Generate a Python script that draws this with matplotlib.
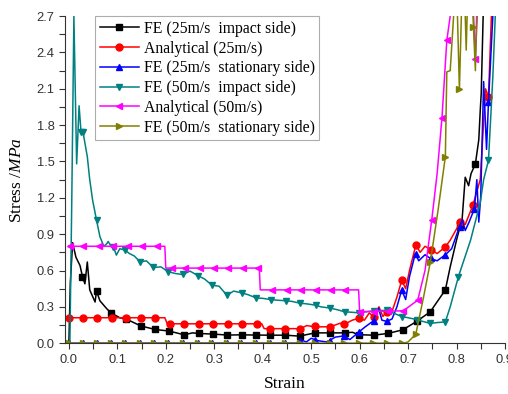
import matplotlib
matplotlib.use("Agg")
import matplotlib.pyplot as plt
from matplotlib.ticker import MultipleLocator

plt.rcParams['font.family'] = ['Liberation Serif', 'DejaVu Serif']
plt.rcParams['mathtext.fontset'] = 'custom'
plt.rcParams['mathtext.rm'] = 'Liberation Serif'
plt.rcParams['mathtext.it'] = 'Liberation Serif:italic'

# ---------------------------------------------------------------------------
# Data (strain, stress in MPa)
# ---------------------------------------------------------------------------
# FE (25 m/s impact side) - black squares
fe25i_x = [0, 0.003, 0.0076, 0.0145, 0.023, 0.028, 0.033, 0.038, 0.043, 0.054, 0.057,
           0.064, 0.078, 0.087, 0.105, 0.118, 0.148, 0.178, 0.207, 0.222, 0.238, 0.255,
           0.269, 0.298, 0.327, 0.357, 0.386, 0.415, 0.446, 0.477, 0.49, 0.508, 0.538,
           0.569, 0.585, 0.598, 0.629, 0.658, 0.689, 0.718, 0.746, 0.777, 0.787, 0.80,
           0.808, 0.811, 0.818, 0.825, 0.83, 0.839, 0.846, 0.849, 0.851, 0.855, 0.858]
fe25i_y = [0, 0.5, 0.83, 0.71, 0.64, 0.55, 0.49, 0.67, 0.44, 0.34, 0.43,
           0.35, 0.285, 0.25, 0.21, 0.20, 0.143, 0.113, 0.10, 0.085, 0.069, 0.085,
           0.08, 0.075, 0.067, 0.069, 0.067, 0.066, 0.066, 0.058, 0.07, 0.085, 0.085,
           0.085, 0.09, 0.07, 0.066, 0.08, 0.11, 0.18, 0.26, 0.44, 0.63, 0.85,
           0.975, 0.99, 1.37, 1.30, 1.40, 1.48, 1.68, 1.92, 2.06, 2.7, 3.0]
fe25i_mx = [0.028, 0.057, 0.087, 0.118, 0.148, 0.178, 0.207, 0.238, 0.269, 0.298, 0.327,
            0.357, 0.386, 0.415, 0.446, 0.477, 0.508, 0.538, 0.569, 0.598, 0.629, 0.658,
            0.689, 0.718, 0.746, 0.777, 0.808, 0.839]
fe25i_my = [0.55, 0.43, 0.25, 0.20, 0.143, 0.113, 0.10, 0.069, 0.08, 0.075, 0.067,
            0.069, 0.067, 0.066, 0.066, 0.058, 0.085, 0.085, 0.085, 0.07, 0.066, 0.08,
            0.11, 0.18, 0.26, 0.44, 0.975, 1.48]

# Analytical (25 m/s) - red circles
an25_x = [0, 0.198, 0.203, 0.398, 0.403, 0.477, 0.491, 0.508, 0.539, 0.56, 0.568, 0.585,
          0.598, 0.61, 0.62, 0.629, 0.64, 0.648, 0.656, 0.665, 0.677, 0.687, 0.695,
          0.703, 0.716, 0.725, 0.735, 0.748, 0.76, 0.777, 0.787, 0.808, 0.818, 0.834,
          0.849, 0.86, 0.866, 0.872, 0.876]
an25_y = [0.21, 0.21, 0.16, 0.16, 0.12, 0.12, 0.145, 0.135, 0.135, 0.165, 0.155, 0.19,
          0.205, 0.19, 0.25, 0.215, 0.30, 0.22, 0.26, 0.24, 0.38, 0.52, 0.45,
          0.60, 0.81, 0.75, 0.80, 0.77, 0.74, 0.795, 0.85, 1.0, 0.98, 1.14,
          1.35, 2.1, 2.03, 2.7, 3.0]
an25_mx = [0.0, 0.03, 0.058, 0.088, 0.118, 0.148, 0.178, 0.209, 0.238, 0.269, 0.298,
           0.328, 0.358, 0.388, 0.415, 0.446, 0.477, 0.508, 0.538, 0.568, 0.598, 0.629,
           0.656, 0.687, 0.716, 0.748, 0.777, 0.808, 0.834, 0.866]
an25_my = [0.21, 0.21, 0.21, 0.21, 0.21, 0.21, 0.21, 0.16, 0.16, 0.16, 0.16,
           0.16, 0.16, 0.16, 0.12, 0.12, 0.12, 0.14, 0.135, 0.155, 0.205, 0.215,
           0.26, 0.52, 0.81, 0.77, 0.795, 1.0, 1.14, 2.03]

# FE (25 m/s stationary side) - blue up triangles
fe25s_x = [0, 0.47, 0.477, 0.49, 0.50, 0.515, 0.532, 0.55, 0.567, 0.58, 0.598, 0.61,
           0.627, 0.639, 0.646, 0.656, 0.667, 0.677, 0.687, 0.695, 0.703, 0.715, 0.722,
           0.735, 0.746, 0.76, 0.777, 0.79, 0.806, 0.812, 0.818, 0.826, 0.837, 0.842,
           0.846, 0.85, 0.856, 0.862, 0.866, 0.875, 0.878]
fe25s_y = [0, 0, 0.03, 0.01, 0.04, 0.02, 0.01, 0.05, 0.06, 0.03, 0.09, 0.13,
           0.18, 0.29, 0.19, 0.18, 0.2, 0.30, 0.44, 0.36, 0.55, 0.74, 0.68,
           0.73, 0.70, 0.68, 0.73, 0.78, 0.96, 1.02, 0.93, 1.0, 1.11, 1.35,
           1.0, 1.21, 2.16, 1.6, 1.99, 2.7, 3.0]
fe25s_mx = [0.0, 0.03, 0.058, 0.087, 0.116, 0.146, 0.176, 0.205, 0.235, 0.266, 0.296,
            0.326, 0.356, 0.386, 0.416, 0.446, 0.477, 0.508, 0.538, 0.567, 0.598, 0.629,
            0.656, 0.687, 0.716, 0.747, 0.777, 0.807, 0.837, 0.866]
fe25s_my = [0, 0, 0, 0, 0, 0, 0, 0, 0, 0, 0,
            0, 0, 0, 0, 0, 0.02, 0.03, 0.02, 0.06, 0.09, 0.18,
            0.18, 0.44, 0.74, 0.70, 0.73, 0.96, 1.11, 1.99]

# FE (50 m/s impact side) - teal down triangles
fe50i_x = [0.002, 0.006, 0.0103, 0.016, 0.021, 0.025, 0.029, 0.038, 0.043, 0.049, 0.057,
           0.064, 0.072, 0.078, 0.081, 0.087, 0.092, 0.098, 0.105, 0.116, 0.125, 0.135,
           0.147, 0.16, 0.174, 0.19, 0.205, 0.22, 0.235, 0.25, 0.267, 0.28, 0.295, 0.31,
           0.326, 0.34, 0.357, 0.37, 0.386, 0.40, 0.417, 0.43, 0.448, 0.46, 0.477, 0.49,
           0.509, 0.52, 0.539, 0.555, 0.569, 0.585, 0.598, 0.615, 0.629, 0.643, 0.656,
           0.672, 0.687, 0.70, 0.718, 0.73, 0.746, 0.76, 0.777, 0.787, 0.804, 0.829,
           0.849, 0.856, 0.866, 0.875, 0.88, 0.883]
fe50i_y = [0, 1.2, 2.70, 1.48, 1.96, 1.745, 1.745, 1.54, 1.35, 1.18, 1.016,
           0.88, 0.80, 0.82, 0.84, 0.80, 0.795, 0.727, 0.78, 0.768, 0.74, 0.72,
           0.67, 0.68, 0.625, 0.63, 0.59, 0.575, 0.567, 0.595, 0.556, 0.53, 0.479, 0.47,
           0.396, 0.43, 0.415, 0.40, 0.374, 0.37, 0.36, 0.355, 0.35, 0.345, 0.33, 0.325,
           0.314, 0.30, 0.29, 0.275, 0.259, 0.255, 0.25, 0.26, 0.267, 0.27, 0.27,
           0.245, 0.22, 0.21, 0.195, 0.18, 0.163, 0.17, 0.176, 0.30, 0.55, 0.85,
           1.16, 1.35, 1.51, 2.2, 2.7, 3.0]
fe50i_mx = [0.025, 0.029, 0.057, 0.092, 0.116, 0.147, 0.174, 0.205, 0.235, 0.267, 0.295,
            0.326, 0.357, 0.386, 0.417, 0.448, 0.477, 0.509, 0.539, 0.569, 0.598, 0.629,
            0.656, 0.687, 0.718, 0.746, 0.777, 0.804, 0.866]
fe50i_my = [1.745, 1.745, 1.016, 0.795, 0.768, 0.67, 0.625, 0.59, 0.567, 0.556, 0.479,
            0.396, 0.415, 0.374, 0.36, 0.35, 0.33, 0.314, 0.29, 0.259, 0.25, 0.267,
            0.27, 0.22, 0.195, 0.163, 0.176, 0.55, 1.51]

# Analytical (50 m/s) - magenta left triangles
an50_x = [0, 0.198, 0.2, 0.393, 0.395, 0.598, 0.60, 0.69, 0.72, 0.735, 0.749, 0.76,
          0.77, 0.78, 0.787, 0.795, 0.832, 0.839, 0.846]
an50_y = [0.80, 0.80, 0.62, 0.62, 0.44, 0.44, 0.26, 0.267, 0.355, 0.6, 1.02, 1.4,
          1.86, 2.5, 2.7, 3.0, 3.0, 2.35, 3.0]
an50_mx = [0.002, 0.029, 0.062, 0.091, 0.122, 0.151, 0.182, 0.212, 0.24, 0.27, 0.299,
           0.329, 0.36, 0.391, 0.419, 0.45, 0.479, 0.51, 0.54, 0.569, 0.601, 0.629,
           0.658, 0.689, 0.72, 0.749, 0.77, 0.78, 0.839]
an50_my = [0.80, 0.80, 0.80, 0.80, 0.80, 0.80, 0.80, 0.62, 0.62, 0.62, 0.62,
           0.62, 0.62, 0.62, 0.44, 0.44, 0.44, 0.44, 0.44, 0.44, 0.26, 0.26,
           0.265, 0.267, 0.355, 1.02, 1.86, 2.5, 2.35]

# FE (50 m/s stationary side) - olive right triangles
fe50s_x = [0, 0.69, 0.70, 0.716, 0.732, 0.746, 0.762, 0.777, 0.78, 0.787, 0.794, 0.80,
           0.806, 0.812, 0.816, 0.82, 0.824, 0.831, 0.835, 0.839, 0.843]
fe50s_y = [0, 0, 0.01, 0.074, 0.38, 0.67, 1.1, 1.54, 2.24, 2.25, 2.7, 3.0,
           2.095, 3.0, 3.0, 2.42, 3.0, 3.0, 2.61, 2.25, 3.0]
fe50s_mx = [0.0, 0.03, 0.058, 0.087, 0.116, 0.146, 0.176, 0.205, 0.235, 0.266, 0.296,
            0.326, 0.356, 0.386, 0.416, 0.446, 0.477, 0.508, 0.538, 0.567, 0.598, 0.627,
            0.656, 0.687, 0.716, 0.746, 0.777, 0.806, 0.835]
fe50s_my = [0, 0, 0, 0, 0, 0, 0, 0, 0, 0, 0,
            0, 0, 0, 0, 0, 0, 0, 0, 0, 0, 0,
            0, 0, 0.074, 0.67, 1.54, 2.095, 2.61]

series = [
    ('FE (25m/s  impact side)', fe25i_x, fe25i_y, fe25i_mx, fe25i_my, 'black', 's'),
    ('Analytical (25m/s)', an25_x, an25_y, an25_mx, an25_my, 'red', 'o'),
    ('FE (25m/s  stationary side)', fe25s_x, fe25s_y, fe25s_mx, fe25s_my, 'blue', '^'),
    ('FE (50m/s  impact side)', fe50i_x, fe50i_y, fe50i_mx, fe50i_my, '#008080', 'v'),
    ('Analytical (50m/s)', an50_x, an50_y, an50_mx, an50_my, 'magenta', '<'),
    ('FE (50m/s  stationary side)', fe50s_x, fe50s_y, fe50s_mx, fe50s_my, '#808000', '>'),
]

fig = plt.figure(figsize=(5.08, 3.94), dpi=100)
ax = fig.add_axes([0.128, 0.129, 0.866, 0.83])

handles = []
for label, x, y, mx, my, color, marker in series:
    ax.plot(x, y, color=color, lw=1.1)
    ax.plot(mx, my, ls='none', marker=marker, color=color, ms=5)
    h, = ax.plot([], [], color=color, lw=1.1, marker=marker, ms=5, label=label)
    handles.append(h)

ax.set_xlim(-0.008, 0.9)
ax.set_ylim(0, 2.7)
ax.xaxis.set_major_locator(MultipleLocator(0.1))
ax.xaxis.set_minor_locator(MultipleLocator(0.05))
ax.yaxis.set_major_locator(MultipleLocator(0.3))
ax.yaxis.set_minor_locator(MultipleLocator(0.15))
ax.spines['top'].set_visible(False)
ax.spines['right'].set_visible(False)
for s in ['left', 'bottom']:
    ax.spines[s].set_color('#333333')
ax.tick_params(which='both', direction='out', colors='#333333', width=0.8, length=4)
ax.tick_params(axis='x', which='both', pad=4)
for lab in ax.get_xticklabels() + ax.get_yticklabels():
    lab.set_fontfamily('Liberation Sans')
    lab.set_fontsize(9.3)
    lab.set_color('#333333')

ax.set_xlabel('Strain', fontsize=12.5, labelpad=7)
ax.set_ylabel('Stress /$\\mathit{MPa}$', fontsize=12.5, labelpad=8)

leg = ax.legend(handles=handles, loc='upper left', bbox_to_anchor=(0.068, 1.0),
                borderaxespad=0, fontsize=11.3, frameon=True, fancybox=False,
                handlelength=2.5, handletextpad=0.3, labelspacing=0.24,
                borderpad=0.3)
leg.get_frame().set_edgecolor('#999999')
leg.get_frame().set_linewidth(0.8)

fig.savefig('out.png', dpi=100)
